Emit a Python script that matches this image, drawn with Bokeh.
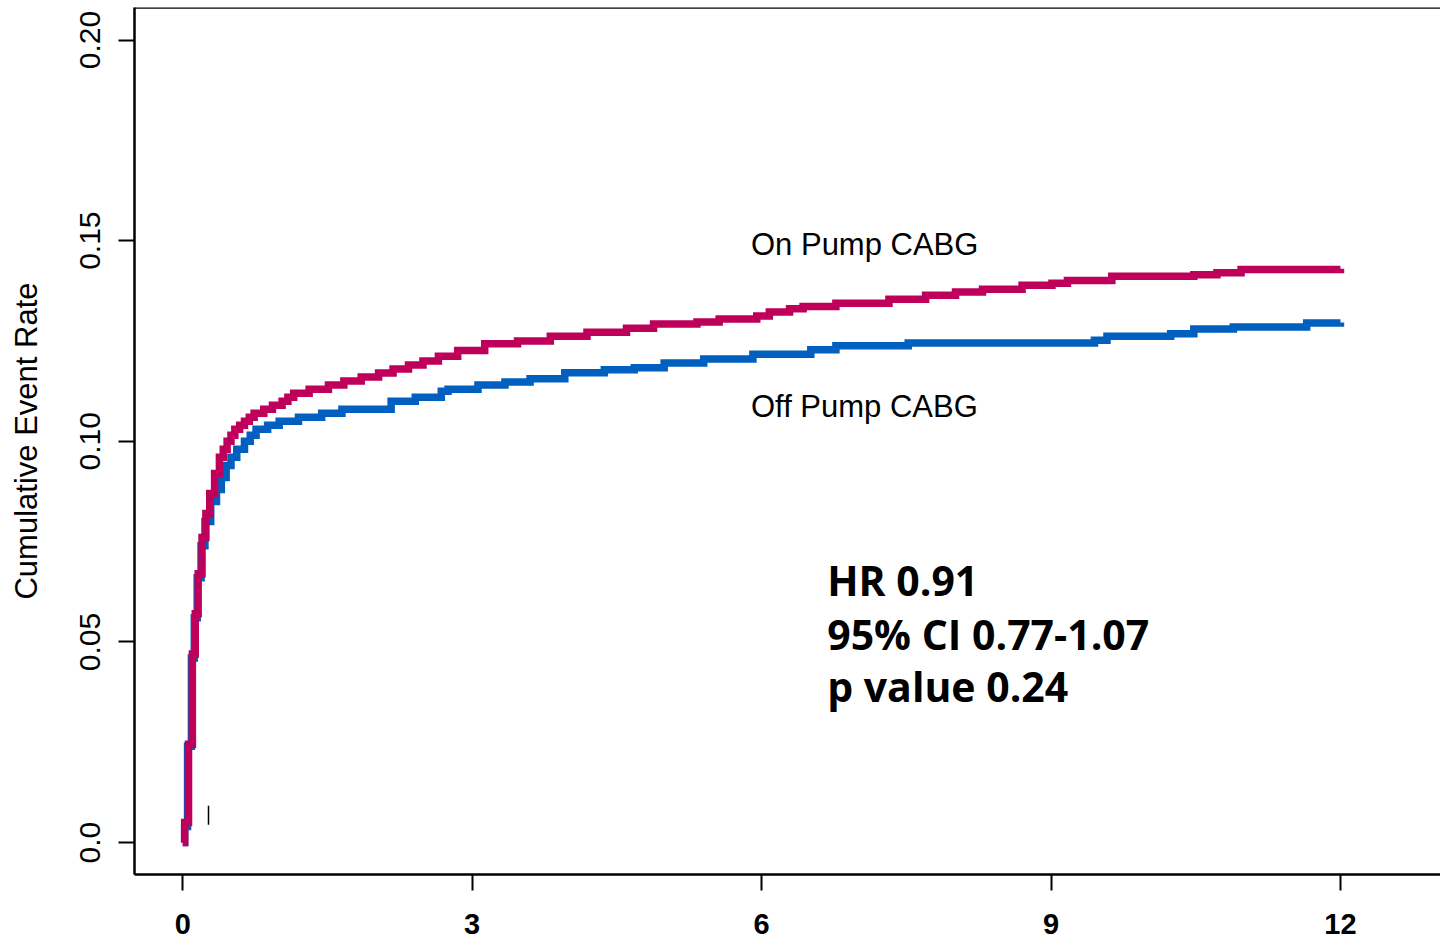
from bokeh.plotting import figure
from bokeh.models import FixedTicker, Range1d, Span, Label
from bokeh.embed import file_html
from bokeh.resources import INLINE

# ---- data (time in months, cumulative event rate) ----
on_pump_t = [0.00, 0.02, 0.06, 0.10, 0.13, 0.16, 0.20, 0.24, 0.28, 0.33, 0.38, 0.42, 0.46,
             0.50, 0.54, 0.59, 0.64, 0.69, 0.74, 0.84, 0.93, 1.03, 1.09, 1.15, 1.31, 1.51,
             1.67, 1.85, 2.03, 2.18, 2.34, 2.49, 2.65, 2.85, 3.13, 3.47, 3.81, 4.19, 4.60,
             4.88, 5.33, 5.56, 5.95, 6.08, 6.29, 6.43, 6.77, 7.32, 7.70, 8.01, 8.29, 8.70,
             9.01, 9.17, 9.63, 10.48, 10.72, 10.97, 12.00]
on_pump_y = [0.0, 0.005, 0.0245, 0.047, 0.057, 0.067, 0.076, 0.082, 0.087, 0.092, 0.096,
             0.098, 0.100, 0.1015, 0.103, 0.104, 0.105, 0.106, 0.107, 0.108, 0.109, 0.110,
             0.111, 0.112, 0.113, 0.114, 0.115, 0.116, 0.117, 0.118, 0.119, 0.120, 0.1212,
             0.1226, 0.1243, 0.1250, 0.1262, 0.1272, 0.1282, 0.1292, 0.1297, 0.1305,
             0.1312, 0.1322, 0.1330, 0.1336, 0.1344, 0.1354, 0.1364, 0.1372, 0.1379,
             0.1389, 0.1394, 0.1401, 0.1411, 0.1415, 0.1420, 0.1428, 0.1430]

off_pump_t = [0.00, 0.02, 0.05, 0.09, 0.12, 0.15, 0.19, 0.23, 0.29, 0.35, 0.40, 0.45, 0.50,
              0.56, 0.64, 0.70, 0.76, 0.88, 1.00, 1.20, 1.44, 1.65, 2.16, 2.41, 2.68, 2.75,
              3.06, 3.34, 3.60, 3.96, 4.37, 4.68, 4.99, 5.40, 5.91, 6.51, 6.77, 7.52, 9.45,
              9.58, 10.24, 10.48, 10.89, 11.65, 12.00]
off_pump_y = [0.0, 0.004, 0.024, 0.046, 0.056, 0.066, 0.074, 0.080, 0.085, 0.088, 0.091,
              0.094, 0.096, 0.098, 0.100, 0.1015, 0.103, 0.104, 0.105, 0.106, 0.107, 0.108,
              0.110, 0.111, 0.1125, 0.113, 0.114, 0.1148, 0.1156, 0.1171, 0.1178, 0.1183,
              0.1195, 0.1205, 0.1217, 0.1228, 0.1238, 0.1245, 0.1252, 0.1262, 0.1268,
              0.1280, 0.1285, 0.1295, 0.1296]

censor_t = [0.267]
censor_y = [0.0068]

x_ticks = [0, 3, 6, 9, 12]
y_ticks = [0.0, 0.05, 0.10, 0.15, 0.20]
y_tick_labels = ["0.0", "0.05", "0.10", "0.15", "0.20"]

series_names = ["On Pump CABG", "Off Pump CABG"]
stats_lines = ["HR 0.91", "95% CI 0.77-1.07", "p value 0.24"]

MAGENTA = "#BF005A"
BLUE = "#005FBF"
FONT = "Liberation Sans"

Y_END = 0.2081
p = figure(width=1440, height=941, output_backend="svg", toolbar_location=None,
           x_range=Range1d(-0.50, 13.037), y_range=Range1d(-0.00795, Y_END),
           min_border_left=134, min_border_right=0, min_border_top=7,
           min_border_bottom=67, title=None)
p.outline_line_color = None
p.background_fill_color = "white"
p.border_fill_color = "white"
p.xgrid.visible = False
p.ygrid.visible = False

# curves (off pump underneath, on pump on top)
p.step(off_pump_t, off_pump_y, mode="after", line_color=BLUE, line_width=7.5,
       line_join="miter")
p.step(on_pump_t, on_pump_y, mode="after", line_color=MAGENTA, line_width=7.5,
       line_join="miter")

# censor mark
p.scatter(censor_t, censor_y, marker="dash", angle=1.5708, size=19,
          line_color="black", line_width=1.5)

# top border of the box
p.add_layout(Span(location=Y_END, dimension="width", line_color="black", line_width=2.5))

# axes
xa = p.xaxis[0]
xa.ticker = FixedTicker(ticks=x_ticks)
xa.minor_tick_line_color = None
xa.major_tick_in = 0
xa.major_tick_out = 16
xa.major_tick_line_width = 2
xa.axis_line_width = 2.5
xa.major_label_text_font = FONT
xa.major_label_text_font_style = "bold"
xa.major_label_text_font_size = "29px"
xa.major_label_text_color = "black"
xa.major_label_standoff = 23

ya = p.yaxis[0]
ya.ticker = FixedTicker(ticks=y_ticks)
ya.major_label_overrides = {t: l for t, l in zip(y_ticks, y_tick_labels)}
ya.minor_tick_line_color = None
ya.major_tick_in = 0
ya.major_tick_out = 16
ya.major_tick_line_width = 2
ya.axis_line_width = 2.5
ya.major_label_orientation = "vertical"
ya.major_label_text_font = FONT
ya.major_label_text_font_size = "30px"
ya.major_label_text_color = "black"
ya.major_label_standoff = 18
ya.axis_label = "Cumulative Event Rate"
ya.axis_label_text_font = FONT
ya.axis_label_text_font_style = "normal"
ya.axis_label_text_font_size = "31px"
ya.axis_label_text_color = "black"
ya.axis_label_standoff = 34

# series labels
p.add_layout(Label(x=5.89, y=0.1491, text=series_names[0], text_font=FONT,
                   text_font_size="31px", text_color="black", text_baseline="middle"))
p.add_layout(Label(x=5.89, y=0.1087, text=series_names[1], text_font=FONT,
                   text_font_size="31px", text_color="black", text_baseline="middle"))

# statistics
for txt, yy in zip(stats_lines, [0.0654, 0.0521, 0.0390]):
    p.add_layout(Label(x=6.68, y=yy, text=txt, text_font="Open Sans", text_font_style="bold",
                       text_font_size="41px", text_color="black", text_baseline="middle"))

open("out.html", "w").write(file_html(p, INLINE))
